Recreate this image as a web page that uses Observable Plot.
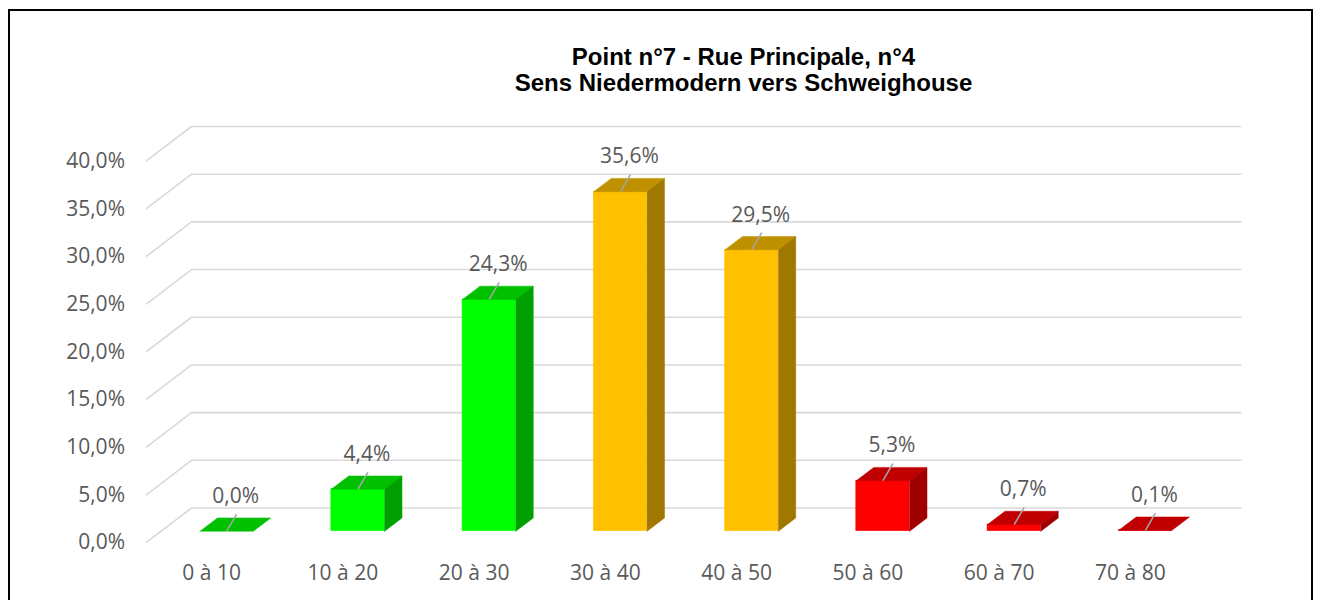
<!DOCTYPE html>
<html>
<head>
<meta charset="utf-8">
<script src="https://cdn.jsdelivr.net/npm/d3@7"></script>
<script src="https://cdn.jsdelivr.net/npm/@observablehq/plot@0.6"></script>
<style>
  html, body { margin: 0; padding: 0; background: #fff; overflow: hidden; }
  #wrap { position: relative; width: 1317px; height: 600px; overflow: hidden; }
  #frame { position: absolute; left: 8px; top: 9px; width: 1301px; height: 700px; border: 2px solid #000; box-sizing: content-box; }
  #title { position: absolute; left: 0; top: 44px; width: 1487px; text-align: center;
           font-family: "Liberation Sans", Arial, sans-serif; font-weight: bold; font-size: 24px; line-height: 26px; color: #000; }
  #chart { position: absolute; left: 0; top: 0; }
</style>
</head>
<body>
<div id="wrap">
  <div id="frame"></div>
  <div id="chart"></div>
  <div id="title">Point n°7 - Rue Principale, n°4<br>Sens Niedermodern vers Schweighouse</div>
</div>
<script>
// ---- data ----
const categories = ["0 à 10", "10 à 20", "20 à 30", "30 à 40", "40 à 50", "50 à 60", "60 à 70", "70 à 80"];
const values = [0.0, 4.4, 24.3, 35.6, 29.5, 5.3, 0.7, 0.1];
const groups = ["vert", "vert", "vert", "orange", "orange", "rouge", "rouge", "rouge"];
const yTicks = [0, 5, 10, 15, 20, 25, 30, 35, 40];

// ---- styles ----
const palette = {
  vert:   {front: "#00FF00", top: "#00C000", side: "#00A000"},
  orange: {front: "#FFC000", top: "#BF9000", side: "#A07800"},
  rouge:  {front: "#FF0000", top: "#C00000", side: "#A00000"}
};

// 3D projection constants (depth expressed in scale units)
const DX = 0.3467, DY = 3.638;     // full floor depth offset
const D0 = 0.331, D1 = 0.714;      // bar front / back depth
const W = 0.406;                   // bar width in category units
const fmt = v => v.toFixed(1).replace(".", ",") + "%";

const bars = categories.map((c, i) => {
  const v = values[i];
  const xl = i + 0.5 - W / 2 + D0 * DX, xr = xl + W;
  const ox = (D1 - D0) * DX;
  return {i, c, v, g: groups[i], xl, xr, ox, yb: D0 * DY, yt: v + D0 * DY, ybb: D1 * DY, ytb: v + D1 * DY};
});

const faces = [];
bars.forEach(b => {
  const p = palette[b.g];
  [[b.xl, b.yt], [b.xr, b.yt], [b.xr + b.ox, b.ytb], [b.xl + b.ox, b.ytb], [b.xl, b.yt]]
    .forEach(([x, y]) => faces.push({x, y, z: b.i + "-top", fill: p.top}));
  if (b.v > 0.5) {
    [[b.xr, b.yb], [b.xr, b.yt], [b.xr + b.ox, b.ytb], [b.xr + b.ox, b.ybb], [b.xr, b.yb]]
      .forEach(([x, y]) => faces.push({x, y, z: b.i + "-side", fill: p.side}));
  }
});

const grid = [];
yTicks.forEach(t => {
  grid.push({x: 0, y: t, t});
  grid.push({x: DX, y: t + DY, t});
  grid.push({x: categories.length + DX, y: t + DY, t});
});

const chart = Plot.plot({
  width: 1317,
  height: 600,
  marginLeft: 145.5,
  marginRight: 121.5,
  marginTop: 160.7,
  marginBottom: 57.8,
  style: {fontFamily: "'Open Sans', sans-serif", fontSize: "21px", color: "#595959", background: "transparent"},
  x: {domain: [0, categories.length]},
  y: {domain: [0, 40]},
  color: {type: "identity"},
  marks: [
    Plot.line(grid, {x: "x", y: "y", z: "t", stroke: "#D9D9D9", strokeWidth: 1.6, strokeLinecap: "butt", strokeLinejoin: "miter"}),
    Plot.rect(bars, {x1: "xl", x2: "xr", y1: "yb", y2: "yt", fill: d => palette[d.g].front,
                     stroke: d => palette[d.g].front, strokeWidth: 0.5}),
    Plot.line(faces, {x: "x", y: "y", z: "z", fill: "fill", stroke: "fill", strokeWidth: 0.5, strokeLinejoin: "miter", curve: "linear"}),
    Plot.link(bars, {x1: d => (d.xl + d.xr) / 2, y1: "yt", x2: d => (d.xl + d.xr) / 2 + 0.076, y2: d => d.yt + 1.8,
                     stroke: "#A6A6A6", strokeWidth: 1.5}),
    Plot.text(bars, {x: d => (d.xl + d.xr) / 2, y: "yt", text: d => fmt(d.v), dx: 9, dy: -35,
                     fill: "#595959", fontSize: 21, textAnchor: "middle"}),
    Plot.axisY({ticks: yTicks, tickFormat: fmt, tickSize: 0, tickPadding: 21, label: null, fill: "#595959", fontSize: 21}),
    Plot.axisX({ticks: categories.map((_, i) => i + 0.5), tickFormat: d => categories[Math.round(d - 0.5)],
                tickSize: 0, tickPadding: 22, label: null, fill: "#595959", fontSize: 21})
  ]
});
document.getElementById("chart").appendChild(chart);
</script>
</body>
</html>
